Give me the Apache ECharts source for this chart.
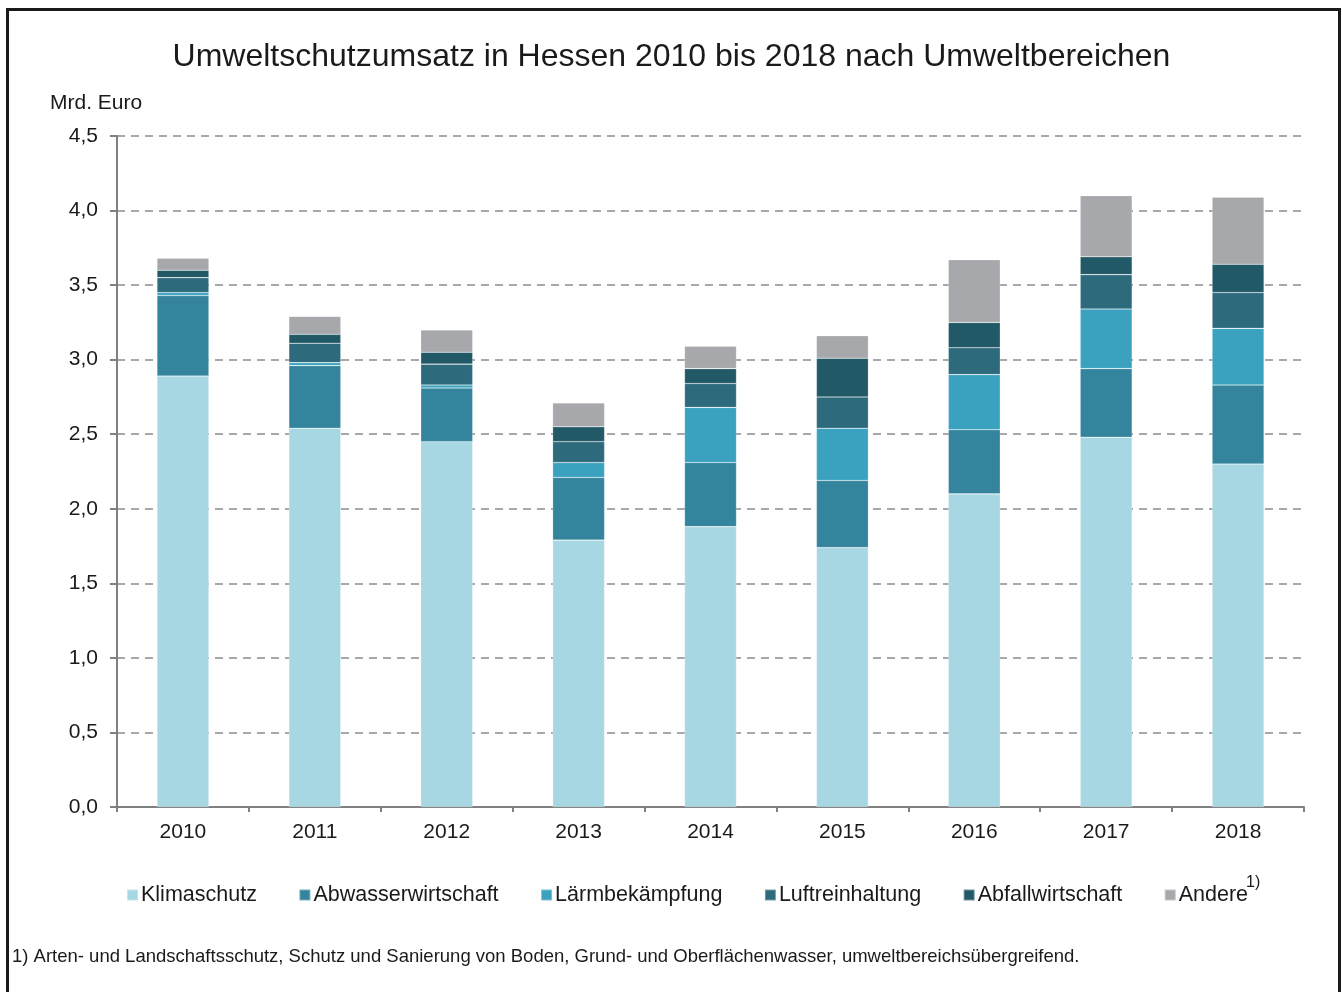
<!DOCTYPE html>
<html><head><meta charset="utf-8">
<script src="https://cdn.jsdelivr.net/npm/echarts@6/dist/echarts.min.js"></script>
<style>html,body{margin:0;padding:0;background:#fff}#c{width:1343px;height:992px}</style>
</head><body><div id="c"></div>
<script>
const years = ['2010','2011','2012','2013','2014','2015','2016','2017','2018'];
const klimaschutz       = [2.89, 2.54, 2.45, 1.79, 1.88, 1.74, 2.10, 2.48, 2.30];
const abwasserwirtschaft= [0.54, 0.42, 0.36, 0.42, 0.43, 0.45, 0.43, 0.46, 0.53];
const laermbekaempfung  = [0.02, 0.02, 0.02, 0.10, 0.37, 0.35, 0.37, 0.40, 0.38];
const luftreinhaltung   = [0.10, 0.13, 0.14, 0.14, 0.16, 0.21, 0.18, 0.23, 0.24];
const abfallwirtschaft  = [0.05, 0.06, 0.08, 0.10, 0.10, 0.26, 0.17, 0.12, 0.19];
const andere            = [0.08, 0.12, 0.15, 0.16, 0.15, 0.15, 0.42, 0.41, 0.45];
const seriesNames = ['Klimaschutz','Abwasserwirtschaft','Lärmbekämpfung','Luftreinhaltung','Abfallwirtschaft','Andere'];
const seriesData = [klimaschutz, abwasserwirtschaft, laermbekaempfung, luftreinhaltung, abfallwirtschaft, andere];
const colors = ['#a8d7e4','#33849c','#3aa2bf','#2c6a7c','#225967','#a7a8ac'];

const FONT = 'Liberation Sans, Arial, sans-serif';
const chart = echarts.init(document.getElementById('c'), null, {renderer:'canvas'});
chart.setOption({
  animation: false,
  textStyle: {fontFamily: FONT, color: '#1a1a1a'},
  title: {
    text: 'Umweltschutzumsatz in Hessen 2010 bis 2018 nach Umweltbereichen',
    left: 'center', top: 36,
    textStyle: {fontFamily: FONT, fontSize: 32, fontWeight: 'normal', color: '#1a1a1a'}
  },
  grid: {left: 117, right: 39, top: 136, bottom: 185},
  legend: {
    left: 121, top: 879,
    itemWidth: 11, itemHeight: 11, itemGap: 41.5,
    icon: 'rect',
    textStyle: {fontFamily: FONT, fontSize: 21.5, color: '#1a1a1a', padding: [0,0,0,-2]},
    data: seriesNames
  },
  xAxis: {
    type: 'category', data: years,
    axisLine: {lineStyle: {color: '#808080', width: 2}},
    axisTick: {show: true, length: 5, lineStyle: {color: '#808080', width: 2}, alignWithLabel: false},
    axisLabel: {fontFamily: FONT, fontSize: 21, color: '#1a1a1a', margin: 15}
  },
  yAxis: {
    type: 'value', min: 0, max: 4.5, interval: 0.5,
    axisLine: {show: true, lineStyle: {color: '#808080', width: 2}},
    axisTick: {show: true, length: 7, lineStyle: {color: '#808080', width: 2}},
    axisLabel: {fontFamily: FONT, fontSize: 21, color: '#1a1a1a', margin: 19,
      formatter: v => v.toFixed(1).replace('.', ',')},
    splitLine: {lineStyle: {color: '#a7a8ac', width: 2, type: [8, 6]}}
  },
  series: seriesNames.map((n, i) => ({
    name: n, type: 'bar', stack: 'total', barWidth: 52,
    data: seriesData[i],
    itemStyle: {color: colors[i], borderColor: 'rgba(255,255,255,0.35)', borderWidth: 0.6}
  })),
  graphic: [
    {type: 'rect', shape: {x: 7.5, y: 9.5, width: 1332, height: 1000},
     style: {fill: 'none', stroke: '#1a1a1a', lineWidth: 3}, silent: true, z: 100},
    {type: 'text', left: 50, top: 93,
     style: {text: 'Mrd. Euro', font: '21px ' + FONT, fill: '#1a1a1a'}},
    {type: 'text', left: 1246, top: 875,
     style: {text: '1)', font: '16px ' + FONT, fill: '#1a1a1a'}},
    {type: 'text', left: 12, top: 947,
     style: {text: '1) Arten- und Landschaftsschutz, Schutz und Sanierung von Boden, Grund- und Oberflächenwasser, umweltbereichsübergreifend.',
       font: '18.5px ' + FONT, fill: '#1a1a1a'}}
  ]
});
</script></body></html>
